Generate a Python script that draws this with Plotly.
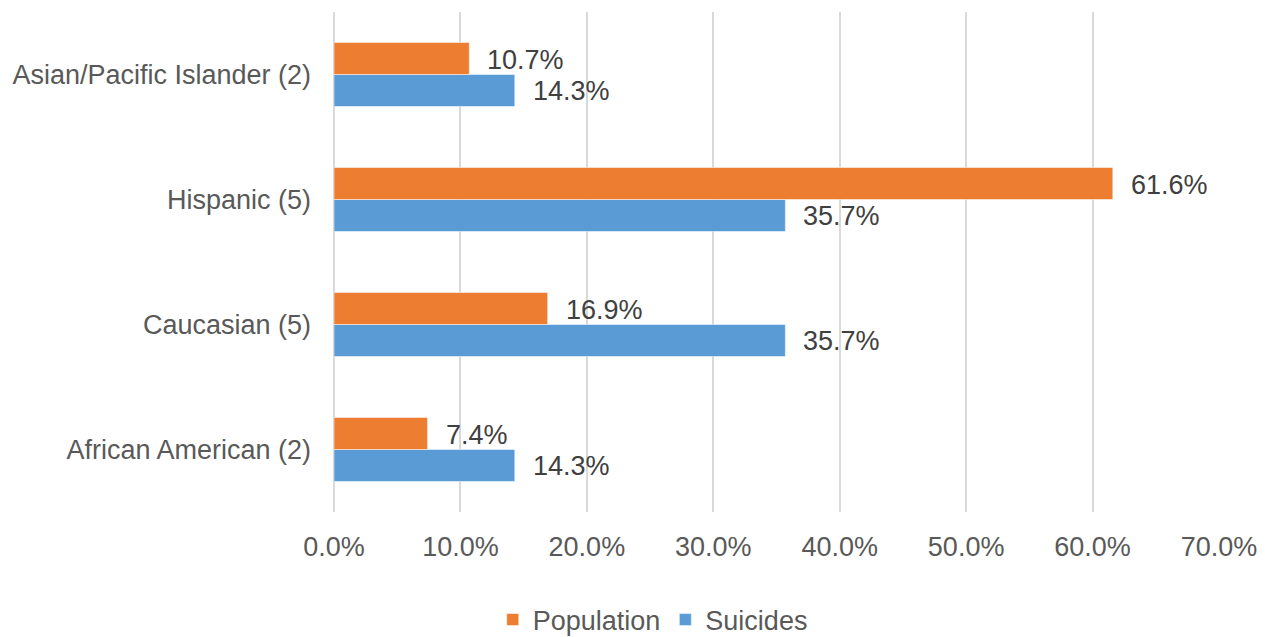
import plotly.graph_objects as go

categories = ["African American (2)", "Caucasian (5)", "Hispanic (5)", "Asian/Pacific Islander (2)"]
population = [7.4, 16.9, 61.6, 10.7]
suicides = [14.3, 35.7, 35.7, 14.3]
x_ticks = [0, 10, 20, 30, 40, 50, 60, 70]

ORANGE = "#ED7D31"
BLUE = "#5B9BD5"
FONT = "Liberation Sans, Arial, sans-serif"
SIZE = 27

fig = go.Figure()
fig.add_trace(go.Bar(
    y=categories, x=suicides, name="Suicides", orientation="h",
    marker=dict(color=BLUE, line=dict(color="#FFFFFF", width=0.5)),
    legendrank=2, hoverinfo="skip",
))
fig.add_trace(go.Bar(
    y=categories, x=population, name="Population", orientation="h",
    marker=dict(color=ORANGE, line=dict(color="#FFFFFF", width=0.5)),
    legendrank=1, hoverinfo="skip",
))

# value labels next to each bar end
for cat, val in zip(categories, population):
    fig.add_annotation(x=val, y=cat, text=f"{val:.1f}%", showarrow=False,
                       xanchor="left", xshift=16, yshift=15,
                       font=dict(family=FONT, size=SIZE, color="#404040"))
for cat, val in zip(categories, suicides):
    fig.add_annotation(x=val, y=cat, text=f"{val:.1f}%", showarrow=False,
                       xanchor="left", xshift=16, yshift=-16,
                       font=dict(family=FONT, size=SIZE, color="#404040"))

fig.update_layout(
    width=1265, height=637,
    margin=dict(l=334, r=46, t=12, b=125, autoexpand=False),
    paper_bgcolor="white", plot_bgcolor="white",
    barmode="group", bargap=0.488, bargroupgap=0,
    font=dict(family=FONT, size=SIZE, color="#595959"),
    legend=dict(orientation="h", x=0.516, xref="container", xanchor="center",
                y=-0.216, yref="paper", yanchor="middle",
                font=dict(family=FONT, size=SIZE, color="#595959"),
                itemwidth=30, tracegroupgap=0),
    showlegend=True,
)
fig.update_xaxes(
    range=[0, 70], tickvals=x_ticks,
    ticktext=[f"{v:.1f}%" for v in x_ticks],
    showgrid=True, gridcolor="#D9D9D9", gridwidth=2,
    zeroline=True, zerolinecolor="#D9D9D9", zerolinewidth=2,
    showline=False, ticks="", ticklabelstandoff=16, automargin=False,
    tickfont=dict(family=FONT, size=SIZE, color="#595959"),
)
fig.update_yaxes(
    categoryorder="array", categoryarray=categories,
    range=[-0.5, 3.5], showgrid=False, zeroline=False, showline=False,
    ticks="", ticklabelstandoff=22, automargin=False,
    tickfont=dict(family=FONT, size=SIZE, color="#595959"),
)

fig.write_html("out.html")
